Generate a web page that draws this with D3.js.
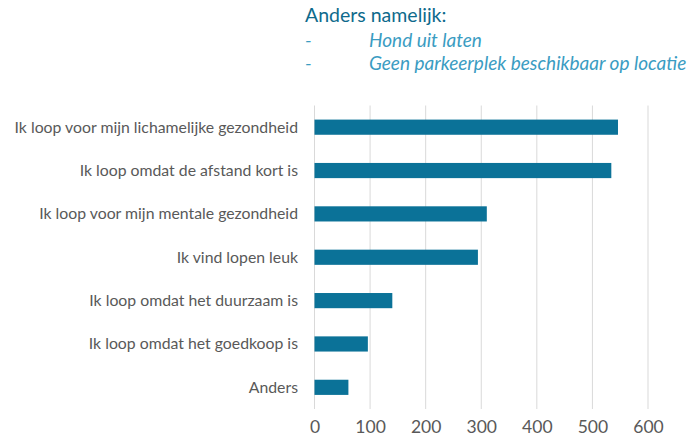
<!DOCTYPE html>
<html>
<head>
<meta charset="utf-8">
<script src="https://cdn.jsdelivr.net/npm/d3@7"></script>
<style>
  body { margin: 0; background: #fff; }
  text { font-family: Lato, "Open Sans", sans-serif; }
</style>
</head>
<body>
<div id="chart"></div>
<script>
// data
const categories = [
    "Ik loop voor mijn lichamelijke gezondheid",
    "Ik loop omdat de afstand kort is",
    "Ik loop voor mijn mentale gezondheid",
    "Ik vind lopen leuk",
    "Ik loop omdat het duurzaam is",
    "Ik loop omdat het goedkoop is",
    "Anders"
];
const values = [546, 534, 310, 294, 140, 96, 61];
const xTicks = [0, 100, 200, 300, 400, 500, 600];
const noteTitle = "Anders namelijk:";
const noteItems = ["Hond uit laten", "Geen parkeerplek beschikbaar op locatie"];

const width = 689, height = 444;
const margin = {left: 314.5, right: 41, top: 105.5, bottom: 35};

const svg = d3.select("#chart").append("svg")
    .attr("width", width)
    .attr("height", height);

const x = d3.scaleLinear()
    .domain([0, 600])
    .range([margin.left, width - margin.right]);

const y = d3.scaleBand()
    .domain(categories)
    .range([margin.top, height - margin.bottom])
    .paddingInner(0.65)
    .paddingOuter(0.325);

// gridlines
svg.append("g")
    .selectAll("line")
    .data(xTicks)
    .join("line")
    .attr("x1", d => x(d)).attr("x2", d => x(d))
    .attr("y1", margin.top).attr("y2", height - margin.bottom)
    .attr("stroke", "#d9d9d9")
    .attr("stroke-width", 1);

// bars
svg.append("g")
    .selectAll("rect")
    .data(values)
    .join("rect")
    .attr("x", x(0))
    .attr("y", (d, i) => y(categories[i]))
    .attr("width", d => x(d) - x(0))
    .attr("height", y.bandwidth())
    .attr("fill", "#0b7298");

// category labels
svg.append("g")
    .selectAll("text")
    .data(categories)
    .join("text")
    .attr("x", 298)
    .attr("y", d => y(d) + y.bandwidth() / 2)
    .attr("dy", "0.35em")
    .attr("text-anchor", "end")
    .attr("fill", "#595959")
    .style("font-size", "15.8px")
    .text(d => d);

// x axis labels
const xAxis = d3.axisBottom(x).tickValues(xTicks).tickSize(0).tickPadding(0);
const gx = svg.append("g")
    .attr("transform", `translate(0,${height - margin.bottom + 12})`)
    .call(xAxis);
gx.select(".domain").remove();
gx.selectAll("text")
    .attr("fill", "#595959")
    .style("font-size", "17.5px")
    .style("font-family", "Lato, sans-serif");

// note top right
svg.append("text")
    .attr("x", 305).attr("y", 22)
    .attr("fill", "#0e6a8c")
    .style("font-size", "19.5px")
    .text(noteTitle);

noteItems.forEach((t, i) => {
    const yy = 47 + i * 23;
    svg.append("text")
        .attr("x", 305).attr("y", yy)
        .attr("fill", "#3a9cc2")
        .style("font-size", "19px")
        .style("font-style", "italic")
        .text("-");
    svg.append("text")
        .attr("x", 369).attr("y", yy)
        .attr("fill", "#3a9cc2")
        .style("font-size", "19px")
        .style("font-style", "italic")
        .text(t);
});
</script>
</body>
</html>
